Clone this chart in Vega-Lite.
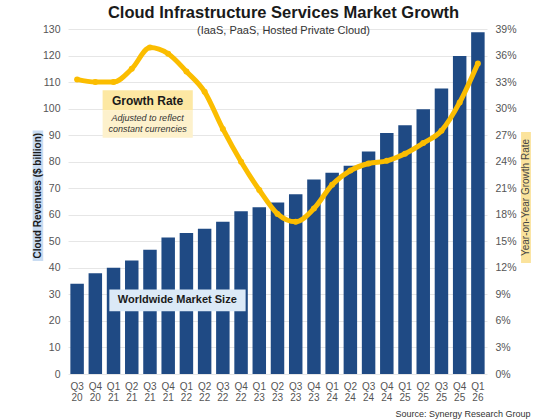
{
  "$schema": "https://vega.github.io/schema/vega-lite/v6.json",
  "width": 419,
  "height": 345,
  "autosize": {"type": "none"},
  "padding": {"left": 68, "top": 29, "right": 72, "bottom": 45},
  "background": "white",
  "config": {
    "font": "Liberation Sans",
    "view": {"stroke": null},
    "axis": {"labelFont": "Liberation Sans", "labelColor": "#555555", "ticks": false, "domain": false}
  },
  "title": {
    "text": "Cloud Infrastructure Services Market Growth",
    "subtitle": "(IaaS, PaaS, Hosted Private Cloud)",
    "anchor": "middle",
    "dx": 6,
    "offset": -12,
    "fontSize": 16.5,
    "fontWeight": "bold",
    "color": "#1a1a1a",
    "subtitleFontSize": 11,
    "subtitleColor": "#333333",
    "subtitlePadding": 4
  },
  "datasets": {
    "main": [
      {"q": "Q3 20", "rev": 34.0, "g": 33.3},
      {"q": "Q4 20", "rev": 38.0, "g": 33.0},
      {"q": "Q1 21", "rev": 40.0, "g": 33.0},
      {"q": "Q2 21", "rev": 42.8, "g": 34.5},
      {"q": "Q3 21", "rev": 46.8, "g": 36.9},
      {"q": "Q4 21", "rev": 51.4, "g": 36.2},
      {"q": "Q1 22", "rev": 53.1, "g": 34.2},
      {"q": "Q2 22", "rev": 54.7, "g": 31.9},
      {"q": "Q3 22", "rev": 57.4, "g": 27.7},
      {"q": "Q4 22", "rev": 61.3, "g": 24.0},
      {"q": "Q1 23", "rev": 62.8, "g": 20.8},
      {"q": "Q2 23", "rev": 64.6, "g": 18.1},
      {"q": "Q3 23", "rev": 67.7, "g": 17.2},
      {"q": "Q4 23", "rev": 73.3, "g": 18.7},
      {"q": "Q1 24", "rev": 75.8, "g": 21.4},
      {"q": "Q2 24", "rev": 78.5, "g": 23.0},
      {"q": "Q3 24", "rev": 83.8, "g": 23.8},
      {"q": "Q4 24", "rev": 90.8, "g": 24.1},
      {"q": "Q1 25", "rev": 93.7, "g": 24.9},
      {"q": "Q2 25", "rev": 99.8, "g": 26.1},
      {"q": "Q3 25", "rev": 107.6, "g": 27.5},
      {"q": "Q4 25", "rev": 119.8, "g": 30.7},
      {"q": "Q1 26", "rev": 128.8, "g": 35.1}
    ]
  },
  "layer": [
    {
      "data": {"name": "main"},
      "mark": {"type": "bar", "color": "#1f4a84"},
      "encoding": {
        "x": {
          "field": "q", "type": "ordinal", "sort": null,
          "scale": {"paddingInner": 0.26, "paddingOuter": 0.13},
          "axis": {
            "labelAngle": 0, "labelExpr": "split(datum.label, ' ')",
            "labelFontSize": 10, "labelLineHeight": 11, "labelPadding": 7,
            "title": "Source: Synergy Research Group",
            "titleFontSize": 9, "titleFontWeight": "normal", "titleColor": "#333333",
            "titleX": 462, "titleY": 39, "titleAlign": "right", "titleBaseline": "middle", "titleAnchor": "end"
          }
        },
        "y": {
          "field": "rev", "type": "quantitative",
          "scale": {"domain": [0, 130], "nice": false},
          "axis": {
            "values": [0, 10, 20, 30, 40, 50, 60, 70, 80, 90, 100, 110, 120, 130],
            "title": null, "grid": true, "gridColor": "#e6e6e6",
            "labelFontSize": 10.5, "labelPadding": 8
          }
        }
      }
    },
    {
      "data": {"name": "main"},
      "mark": {"type": "line", "color": "#fbbd00", "strokeWidth": 5, "interpolate": "monotone",
               "point": {"filled": true, "size": 36, "color": "#fbbd00"}},
      "encoding": {
        "x": {"field": "q", "type": "ordinal", "sort": null, "axis": null},
        "y": {
          "field": "g", "type": "quantitative",
          "scale": {"domain": [0, 39], "nice": false},
          "axis": {
            "orient": "right",
            "values": [0, 3, 6, 9, 12, 15, 18, 21, 24, 27, 30, 33, 36, 39],
            "labelExpr": "datum.value + '%'",
            "title": null, "grid": false,
            "labelFontSize": 10.5, "labelPadding": 8
          }
        }
      }
    },
    {
      "data": {"values": [{}]},
      "encoding": {
        "x": {"type": "quantitative", "scale": {"domain": [0, 23], "nice": false, "zero": false}, "axis": null},
        "y": {"type": "quantitative", "scale": {"domain": [0, 130], "nice": false, "zero": false}, "axis": null}
      },
      "layer": [
        {"mark": {"type": "rect", "color": "#c9dcf2"},
         "encoding": {"x": {"datum": -1.94}, "x2": {"datum": -1.36}, "y": {"datum": 91.8}, "y2": {"datum": 42.6}}},
        {"mark": {"type": "rect", "color": "#fbe39c"},
         "encoding": {"x": {"datum": 24.87}, "x2": {"datum": 25.41}, "y": {"datum": 91.2}, "y2": {"datum": 41.8}}},
        {"mark": {"type": "rect", "color": "#fde8a3"},
         "encoding": {"x": {"datum": 1.9}, "x2": {"datum": 6.85}, "y": {"datum": 106.9}, "y2": {"datum": 99.3}}},
        {"mark": {"type": "rect", "color": "#fdf1cc"},
         "encoding": {"x": {"datum": 1.9}, "x2": {"datum": 6.85}, "y": {"datum": 99.3}, "y2": {"datum": 89.0}}},
        {"mark": {"type": "rect", "color": "#dbe9f7"},
         "encoding": {"x": {"datum": 2.27}, "x2": {"datum": 9.75}, "y": {"datum": 31.8}, "y2": {"datum": 23.6}}},
        {"mark": {"type": "text", "fontSize": 12, "fontWeight": "bold", "color": "#1a1a1a"},
         "encoding": {"x": {"datum": 4.37}, "y": {"datum": 103.0}, "text": {"value": "Growth Rate"}}},
        {"mark": {"type": "text", "fontSize": 9, "fontStyle": "italic", "color": "#333333"},
         "encoding": {"x": {"datum": 4.37}, "y": {"datum": 96.6}, "text": {"value": "Adjusted to reflect"}}},
        {"mark": {"type": "text", "fontSize": 9, "fontStyle": "italic", "color": "#333333"},
         "encoding": {"x": {"datum": 4.37}, "y": {"datum": 92.4}, "text": {"value": "constant currencies"}}},
        {"mark": {"type": "text", "fontSize": 11, "fontWeight": "bold", "color": "#1a1a1a"},
         "encoding": {"x": {"datum": 6.0}, "y": {"datum": 27.7}, "text": {"value": "Worldwide Market Size"}}},
        {"mark": {"type": "text", "fontSize": 10, "fontWeight": "bold", "color": "#1a1a1a", "angle": 270},
         "encoding": {"x": {"datum": -1.65}, "y": {"datum": 67.2}, "text": {"value": "Cloud Revenues ($ billion)"}}},
        {"mark": {"type": "text", "fontSize": 10, "color": "#444444", "angle": 270},
         "encoding": {"x": {"datum": 25.14}, "y": {"datum": 66.5}, "text": {"value": "Year-on-Year Growth Rate"}}}
      ]
    }
  ],
  "resolve": {"scale": {"x": "independent", "y": "independent"}}
}
